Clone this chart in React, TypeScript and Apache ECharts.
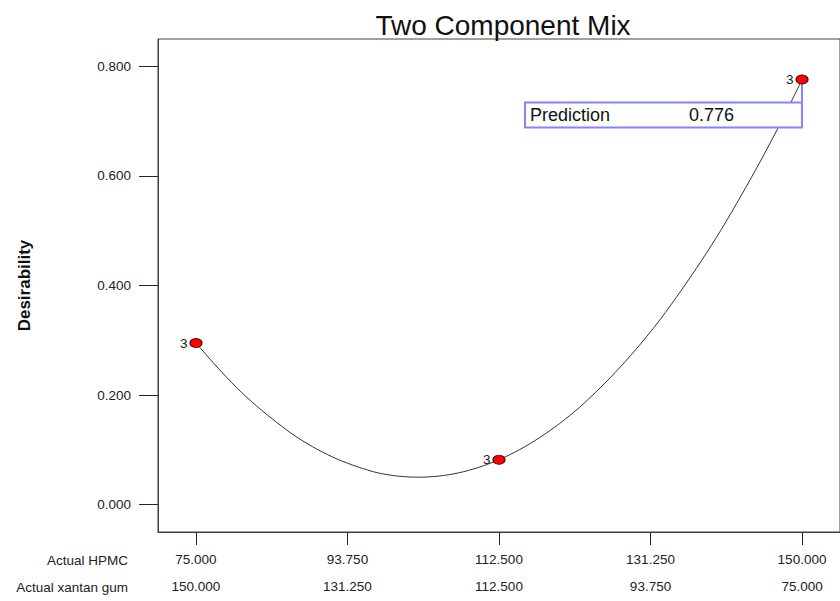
import React, { useEffect, useRef } from "react";
import * as echarts from "echarts";

const titleText = "Two Component Mix";
const yAxisName = "Desirability";
const hpmcTicks = [75, 93.75, 112.5, 131.25, 150];
const xantanTicks = [150, 131.25, 112.5, 93.75, 75];
const yTicks = [0, 0.2, 0.4, 0.6, 0.8];
const rowLabels = ["Actual HPMC", "Actual xantan gum"];

const curveHpmc = [
  75, 77.5, 80, 82.5, 85, 87.5, 90, 92.5, 95, 97.5, 100, 102.5, 105, 107.5, 110, 112.5,
  115, 117.5, 120, 122.5, 125, 127.5, 130, 132.5, 135, 137.5, 140, 142.5, 145, 147.5, 150,
];
const curveDesir = [
  0.295, 0.253, 0.214, 0.18, 0.15, 0.123, 0.101, 0.083, 0.069, 0.058, 0.052, 0.05, 0.052, 0.058, 0.068, 0.082,
  0.1, 0.122, 0.148, 0.178, 0.213, 0.251, 0.293, 0.339, 0.39, 0.444, 0.502, 0.565, 0.631, 0.701, 0.776,
];

const designHpmc = [75, 112.5, 150];
const designDesir = [0.295, 0.082, 0.776];
const designCounts = ["3", "3", "3"];

const predictionLabel = "Prediction";
const predictionHpmc = 150;
const predictionValue = 0.776;

const FONT = "Liberation Sans, Arial, sans-serif";

export default function App() {
  const ref = useRef<HTMLDivElement>(null);
  useEffect(() => {
    if (!ref.current) return;
    const chart = echarts.init(ref.current, undefined, { renderer: "svg" });
    const gridLeft = 158;
    const gridTop = 39;
    const gridBottom = 69;
    const H = 601;
    chart.setOption({
      animation: false,
      backgroundColor: "#ffffff",
      title: {
        text: titleText,
        left: 498,
        textAlign: "center",
        top: 6,
        textStyle: { fontFamily: FONT, fontSize: 28, fontWeight: "normal", color: "#111" },
      },
      grid: {
        left: gridLeft,
        top: gridTop,
        right: -1,
        bottom: gridBottom,
        show: true,
        borderColor: "#404040",
        borderWidth: 1,
        backgroundColor: "transparent",
      },
      xAxis: {
        type: "value",
        min: 70.3,
        max: 154.7,
        splitLine: { show: false },
        axisLine: { show: true, onZero: false, lineStyle: { color: "#404040", width: 1 } },
        axisTick: { show: true, customValues: hpmcTicks, length: 13, lineStyle: { color: "#222" } },
        axisLabel: {
          customValues: hpmcTicks,
          margin: 14,
          fontFamily: FONT,
          fontSize: 13.5,
          lineHeight: 27,
          color: "#222",
          formatter: (v: number) => {
            const i = hpmcTicks.findIndex((t) => Math.abs(t - v) < 1e-6);
            if (i < 0) return "";
            return hpmcTicks[i].toFixed(3) + "\n" + xantanTicks[i].toFixed(3);
          },
        },
      },
      yAxis: {
        type: "value",
        min: -0.05,
        max: 0.85,
        name: yAxisName,
        nameLocation: "middle",
        nameGap: 125,
        nameTextStyle: { fontFamily: FONT, fontSize: 17, fontWeight: "bold", color: "#111" },
        splitLine: { show: false },
        axisLine: { show: true, onZero: false, lineStyle: { color: "#404040", width: 1 } },
        axisTick: { show: true, customValues: yTicks, length: 19, lineStyle: { color: "#222" } },
        axisLabel: {
          customValues: yTicks,
          margin: 27,
          fontFamily: FONT,
          fontSize: 13.5,
          color: "#222",
          formatter: (v: number) => v.toFixed(3),
        },
      },
      series: [
        {
          type: "line",
          data: curveHpmc.map((x, i) => [x, curveDesir[i]]),
          smooth: 0.3,
          showSymbol: false,
          lineStyle: { color: "#333", width: 1 },
          z: 2,
        },
        {
          type: "scatter",
          data: designHpmc.map((x, i) => [x, designDesir[i]]),
          symbol: "circle",
          symbolSize: [12, 9],
          itemStyle: { color: "#ff0000", borderColor: "#550000", borderWidth: 1, opacity: 1 },
          label: {
            show: true,
            position: "left",
            distance: 2,
            fontFamily: FONT,
            fontSize: 13.5,
            color: "#222",
            formatter: (p: any) => designCounts[p.dataIndex],
          },
          z: 6,
        },
      ],
    });

    const p = chart.convertToPixel({ gridIndex: 0 }, [predictionHpmc, predictionValue]) as number[];
    const bx1 = p[0] - 277;
    const bx2 = p[0];
    const by1 = p[1] + 23;
    const by2 = p[1] + 48;
    const axisY = H - gridBottom;
    chart.setOption({
      graphic: [
        {
          type: "rect",
          shape: { x: bx1, y: by1, width: bx2 - bx1, height: by2 - by1 },
          style: { fill: "#ffffff", stroke: "#8484ff", lineWidth: 2 },
          z: 4,
        },
        {
          type: "line",
          shape: { x1: p[0], y1: p[1], x2: p[0], y2: by2 },
          style: { stroke: "#8484ff", lineWidth: 2 },
          z: 4,
        },
        {
          type: "text",
          x: bx1 + 5,
          y: (by1 + by2) / 2,
          style: { text: predictionLabel, fontFamily: FONT, fontSize: 18, fill: "#111", verticalAlign: "middle", align: "left" },
          z: 5,
        },
        {
          type: "text",
          x: bx1 + 164,
          y: (by1 + by2) / 2,
          style: { text: predictionValue.toFixed(3), fontFamily: FONT, fontSize: 18, fill: "#111", verticalAlign: "middle", align: "left" },
          z: 5,
        },
        {
          type: "text",
          x: 128,
          y: axisY + 28,
          style: { text: rowLabels[0], fontFamily: FONT, fontSize: 13.5, fill: "#222", verticalAlign: "middle", align: "right" },
        },
        {
          type: "text",
          x: 128,
          y: axisY + 55,
          style: { text: rowLabels[1], fontFamily: FONT, fontSize: 13.5, fill: "#222", verticalAlign: "middle", align: "right" },
        },
      ],
    });

    return () => chart.dispose();
  }, []);
  return (
    <div
      ref={ref}
      style={{ position: "fixed", left: 0, top: 0, width: 840, height: 601, background: "#fff" }}
    />
  );
}
